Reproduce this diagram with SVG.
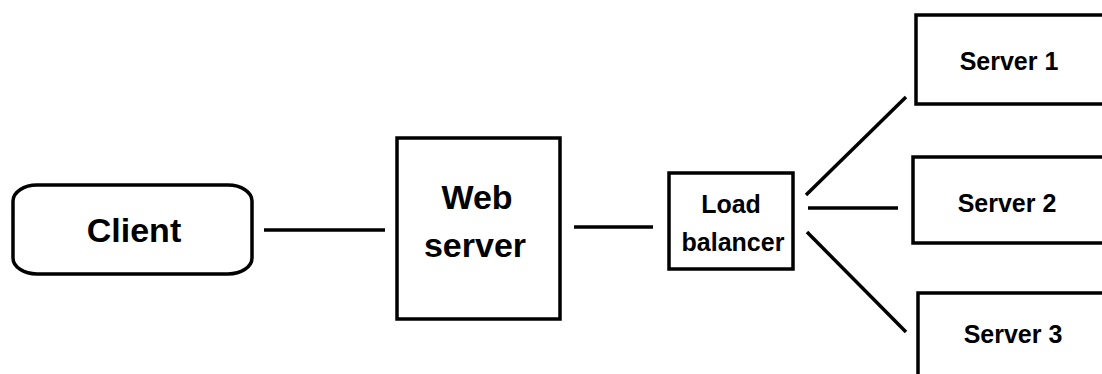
<svg xmlns="http://www.w3.org/2000/svg" width="1102" height="374" viewBox="0 0 1102 374">
  <style>
    .box { fill: #ffffff; stroke: #000000; stroke-width: 3.5; }
    .wire { stroke: #000000; stroke-width: 3.5; fill: none; }
    .lbl { font-family: "Liberation Sans", Arial, sans-serif; font-weight: bold; fill: #000000; text-anchor: middle; }
    .big { font-size: 34px; }
    .small { font-size: 25px; }
  </style>
  <rect width="1102" height="374" fill="#ffffff"/>

  <g id="connectors">
    <line class="wire" x1="264" y1="230" x2="385" y2="230"/>
    <line class="wire" x1="574" y1="227" x2="653" y2="227"/>
    <line class="wire" x1="806" y1="195" x2="906" y2="97"/>
    <line class="wire" x1="808" y1="208" x2="898" y2="208"/>
    <line class="wire" x1="807" y1="232" x2="906" y2="332"/>
  </g>

  <g id="client">
    <rect class="box" x="13" y="185" width="239" height="89" rx="24" ry="16"/>
    <text class="lbl big" x="134" y="242">Client</text>
  </g>

  <g id="web-server">
    <rect class="box" x="397" y="138" width="163" height="181"/>
    <text class="lbl big" x="477" y="209">Web</text>
    <text class="lbl big" x="475" y="257">server</text>
  </g>

  <g id="load-balancer">
    <rect class="box" x="669" y="173" width="124" height="96"/>
    <text class="lbl small" x="731" y="213">Load</text>
    <text class="lbl small" x="733" y="251">balancer</text>
  </g>

  <g id="server-1">
    <rect class="box" x="916" y="15" width="200" height="89"/>
    <text class="lbl small" x="1009" y="70">Server 1</text>
  </g>

  <g id="server-2">
    <rect class="box" x="913" y="157" width="200" height="86"/>
    <text class="lbl small" x="1007" y="212">Server 2</text>
  </g>

  <g id="server-3">
    <rect class="box" x="918" y="293" width="200" height="100"/>
    <text class="lbl small" x="1013" y="343">Server 3</text>
  </g>
</svg>
